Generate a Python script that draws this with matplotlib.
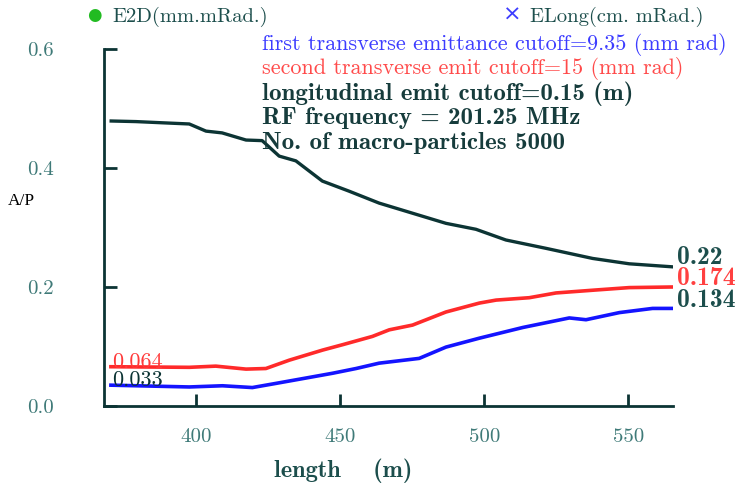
import matplotlib.pyplot as plt

# longitudinal emittance (black), read along the length
x_long = [370.5, 379.1, 388.2, 397.6, 403.4, 409.0, 417.3, 422.9, 428.8, 434.6,
          443.8, 453.1, 463.5, 475.1, 486.7, 497.1, 507.5, 521.4, 537.6, 550.3, 565.0]
y_long = [0.479, 0.478, 0.476, 0.474, 0.462, 0.459, 0.447, 0.446, 0.420, 0.412,
          0.378, 0.361, 0.341, 0.324, 0.307, 0.297, 0.279, 0.265, 0.248, 0.239, 0.234]

# second transverse cutoff (red)
x_red = [370.4, 397.6, 406.8, 417.3, 424.2, 432.3, 443.9, 450.8, 461.2, 467.0,
         475.1, 486.7, 498.3, 504.1, 515.6, 524.9, 538.8, 550.3, 565.0]
y_red = [0.066, 0.065, 0.067, 0.062, 0.063, 0.077, 0.094, 0.103, 0.117, 0.128,
         0.136, 0.158, 0.173, 0.178, 0.182, 0.190, 0.195, 0.199, 0.200]

# first transverse cutoff (blue)
x_blue = [370.4, 397.6, 409.1, 419.5, 427.7, 438.1, 447.3, 455.5, 463.5, 477.4,
          486.7, 498.3, 513.4, 529.5, 535.3, 546.9, 558.4, 565.0]
y_blue = [0.035, 0.032, 0.034, 0.031, 0.038, 0.047, 0.055, 0.063, 0.072, 0.080,
          0.099, 0.114, 0.132, 0.148, 0.145, 0.157, 0.164, 0.164]

xticks = [400, 450, 500, 550]
yticks = [0.0, 0.2, 0.4, 0.6]

info_lines = [
    ("first transverse emittance cutoff=9.35 (mm rad)", '#3c3cff', 'cmr10', 15.9),
    ("second transverse emit cutoff=15 (mm rad)", '#ff4a4a', 'cmr10', 15.9),
    ("longitudinal emit cutoff=0.15 (m)", '#163c3c', 'cmb10', 18),
    ("RF frequency = 201.25 MHz", '#163c3c', 'cmb10', 18),
    ("No. of macro-particles 5000", '#163c3c', 'cmb10', 18),
]

dark = '#0c3434'
teal = '#3f7a78'

plt.rcParams['axes.formatter.use_mathtext'] = True
fig = plt.figure(figsize=(7.39, 4.92), dpi=100)
ax = fig.add_axes([0.1407, 0.1748, 0.770, 0.7256])

ax.plot(x_long, y_long, color=dark, lw=2.4)
ax.plot(x_red, y_red, color='#ff2a2a', lw=2.6)
ax.plot(x_blue, y_blue, color='#1414ff', lw=2.6)

ax.set_xlim(368, 565.5)
ax.set_ylim(0, 0.6)
ax.set_xticks(xticks)
ax.set_yticks(yticks)
ax.set_xticklabels([str(t) for t in xticks], fontfamily='cmr10', fontsize=15, color=teal)
ax.set_yticklabels(['%.1f' % t for t in yticks], fontfamily='cmr10', fontsize=15, color=teal)
ax.tick_params(direction='in', length=9, width=2, color=dark)
ax.tick_params(axis='y', pad=36)
ax.tick_params(axis='x', pad=16)
for side in ['top', 'right']:
    ax.spines[side].set_visible(False)
for side in ['left', 'bottom']:
    ax.spines[side].set_color(dark)
    ax.spines[side].set_linewidth(2)

# end-point values
ax.text(x_red[0] + 0.5, y_red[0] - 0.002, '0.064', fontfamily='cmr10', fontsize=16,
        color='#ff3a3a', va='baseline')
ax.text(x_blue[0] + 0.5, y_blue[0] - 0.002, '0.033', fontfamily='cmr10', fontsize=16,
        color=dark, va='baseline')
ax.text(567, 0.249, '0.22', fontfamily='cmb10', fontsize=18.5, color='#1c4e4c',
        va='center', clip_on=False)
ax.text(567, 0.214, '0.174', fontfamily='cmb10', fontsize=18.5, color='#ff4040',
        va='center', clip_on=False)
ax.text(567, 0.177, '0.134', fontfamily='cmb10', fontsize=18.5, color='#1c4e4c',
        va='center', clip_on=False)

# legend markers along the top
fig.text(94 / 739, 1 - 15 / 492, '\u25cf', color='#22bb22', fontsize=12,
         ha='center', va='center', family='DejaVu Sans')
fig.text(112 / 739, 1 - 17 / 492, 'E2D(mm.mRad.)', fontfamily='cmr10', fontsize=14.8,
         color='#1c4e4c', va='center')
fig.text(512 / 739, 1 - 15 / 492, '\u00d7', color='#3c3cff', fontsize=16,
         ha='center', va='center', family='DejaVu Sans')
fig.text(530 / 739, 1 - 17 / 492, 'ELong(cm. mRad.)', fontfamily='cmr10', fontsize=14.8,
         color='#1c4e4c', va='center')

# run parameters
for i, (txt, col, fam, size) in enumerate(info_lines):
    fig.text(262 / 739, 1 - (44 + 24.7 * i) / 492, txt, fontfamily=fam,
             fontsize=size, color=col, va='center')

fig.text(8 / 739, 1 - 201 / 492, 'A/P', fontfamily='Liberation Serif', fontsize=12.5,
         color='black', va='center')
fig.text(343 / 739, 1 - 471 / 492, 'length    (m)', fontfamily='cmb10', fontsize=17.5,
         color='#1c4e4c', ha='center', va='center')

fig.savefig('out.png', dpi=100)
